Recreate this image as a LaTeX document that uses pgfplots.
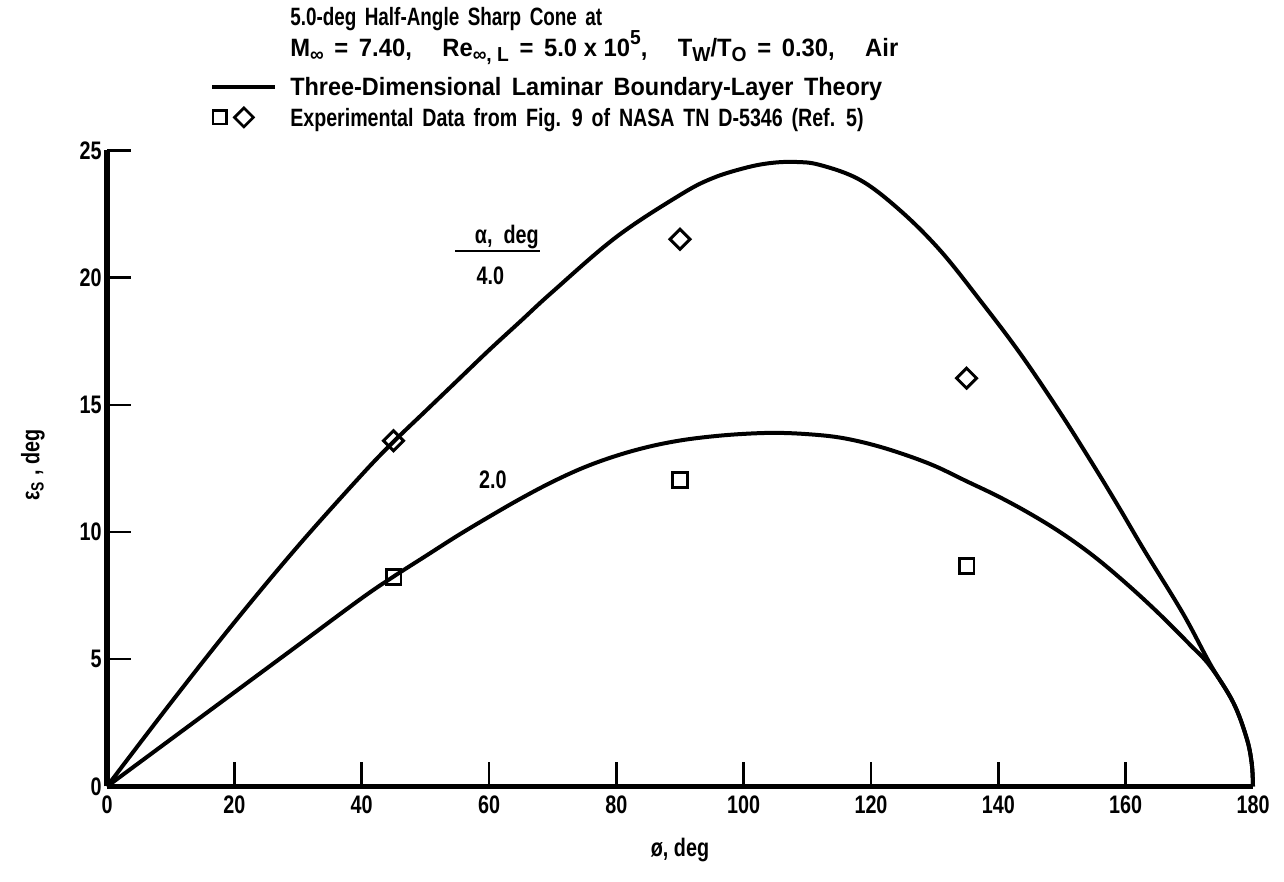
\documentclass[border=0pt]{standalone}
\usepackage{fontspec}
\setmainfont{Liberation Sans}[FakeStretch=0.78]
\usepackage{graphicx}
\usepackage{pgfplots}
\pgfplotsset{compat=1.18}
\pgfplotstableread{
x y
0 0
10 3.28
20 6.45
30 9.45
40 12.25
45 13.55
50 14.75
55 15.95
60 17.15
65 18.3
70 19.45
80 21.6
90 23.25
95 23.9
100 24.3
104 24.5
108 24.55
112 24.43
118.3 23.84
124.5 22.66
130.8 21.09
137.1 19.12
143.4 17.03
149.7 14.7
155 12.6
159 10.95
163 9.25
169 6.8
173.3 4.8
176.9 3.3
179 1.9
179.8 0.9
180 0
}\thetafour
\pgfplotstableread{
x y
0 0
10 1.85
20 3.7
30 5.55
40 7.4
45 8.25
50 9.05
55 9.85
60 10.6
65 11.32
70 11.98
75 12.55
80 13.0
85 13.35
90 13.6
95 13.76
100 13.86
105 13.9
110 13.85
115 13.72
120 13.45
125 13.07
130 12.6
135 12.0
140 11.4
145 10.72
150 9.95
155 9.05
160 8.0
165 6.85
170 5.6
173.3 4.72
176.9 3.3
179 1.9
179.8 0.9
180 0
}\thetatwo
\pgfplotstableread{
x y
45 13.59
90 21.51
135 16.05
}\expfour
\pgfplotstableread{
x y
45 8.25
90 12.05
135 8.66
}\exptwo
\newcommand\tfont{\fontsize{9.4}{11}\selectfont\bfseries}
\newcommand\sub[1]{\raisebox{-0.35ex}{\fontsize{7.6}{8}\selectfont #1}}
\newcommand\sps[1]{\raisebox{0.9ex}{\fontsize{7.6}{8}\selectfont #1}}
\newcommand\ws{\hspace{0.35em}}
\begin{document}
\bfseries
\begin{tikzpicture}
\useasboundingbox (-40.125pt,-35.8125pt) rectangle (441.375pt,294.9375pt);
\begin{axis}[
  name=ax,
  at={(0,0)}, anchor=south west,
  scale only axis,
  width=429.75pt, height=238.5pt,
  xmin=0, xmax=180, ymin=0, ymax=25,
  axis x line=bottom, axis y line=left,
  axis line style={-, line width=2.2pt},
  xtick={0,20,...,180}, ytick={0,5,...,25},
  tick align=inside,
  major tick length=9pt,
  tick style={line width=0.9pt, black},
  /pgf/number format/assume math mode=true,
  tick label style={font=\fontsize{9.5}{11}\selectfont\bfseries},
  yticklabel style={xshift=1.5pt},
  xlabel={ø, deg},
  ylabel={ε\textsubscript{S} , deg},
  xlabel style={at={(axis description cs:0.5,-0.0998)}, anchor=center, font=\fontsize{9.5}{11}\selectfont\bfseries},
  ylabel style={at={(axis description cs:-0.0646,0.5055)}, anchor=center, font=\fontsize{9.5}{11}\selectfont\bfseries},
  clip=false,
]
\addplot[black, line width=1.5pt, smooth, tension=0.6] table {\thetafour};
\addplot[black, line width=1.5pt, smooth, tension=0.6] table {\thetatwo};
\addplot[only marks, mark=square, mark size=2.65pt, mark options={rotate=45, line width=1.1pt, fill=white, draw=black}] table {\expfour};
\addplot[only marks, mark=square, mark size=2.8pt, mark options={line width=1.1pt, fill=white, draw=black}] table {\exptwo};
% annotations
\node[font=\fontsize{9.5}{11}\selectfont\bfseries] at (axis cs:62.8,21.6) {α,\ \ deg};
\draw[line width=1pt] (axis cs:54.7,21.05) -- (axis cs:68.0,21.05);
\node[font=\fontsize{9.5}{11}\selectfont\bfseries] at (axis cs:60.2,20.07) {4.0};
\node[font=\fontsize{9.5}{11}\selectfont\bfseries] at (axis cs:60.6,12.05) {2.0};
% title and legend
\node[anchor=base west, inner sep=0, font=\tfont] at (axis cs:28.7,29.93) {\resizebox{117pt}{\height}{5.0-deg\ws Half-Angle\ws Sharp\ws Cone\ws at}};
\node[anchor=base west, inner sep=0, font=\tfont] at (axis cs:28.7,28.68) {\resizebox{228pt}{\height}{M\sub{∞}\ws=\ws 7.40,\hspace{1em}Re\sub{∞, L}\ws=\ws 5.0 x 10\sps{5},\hspace{1em}T\sub{W}/T\sub{O}\ws=\ws 0.30,\hspace{1em}Air}};
\draw[line width=1.5pt] (axis cs:16.5,27.5) -- (axis cs:26.4,27.5);
\node[anchor=base west, inner sep=0, font=\tfont] at (axis cs:28.7,27.18) {\resizebox{222pt}{\height}{Three-Dimensional\ws Laminar\ws Boundary-Layer\ws Theory}};
\node[draw, line width=1pt, rectangle, minimum size=5pt, inner sep=0] at (axis cs:17.7,26.3) {};
\node[draw, line width=1pt, rectangle, rotate=45, minimum size=5pt, inner sep=0] at (axis cs:21.5,26.3) {};
\node[anchor=base west, inner sep=0, font=\tfont] at (axis cs:28.7,25.93) {\resizebox{215pt}{\height}{Experimental\ws Data\ws from\ws Fig.\ \ 9\ws of\ws NASA\ws TN\ws D-5346\ws (Ref.\ \ 5)}};
\end{axis}
\end{tikzpicture}
\end{document}
